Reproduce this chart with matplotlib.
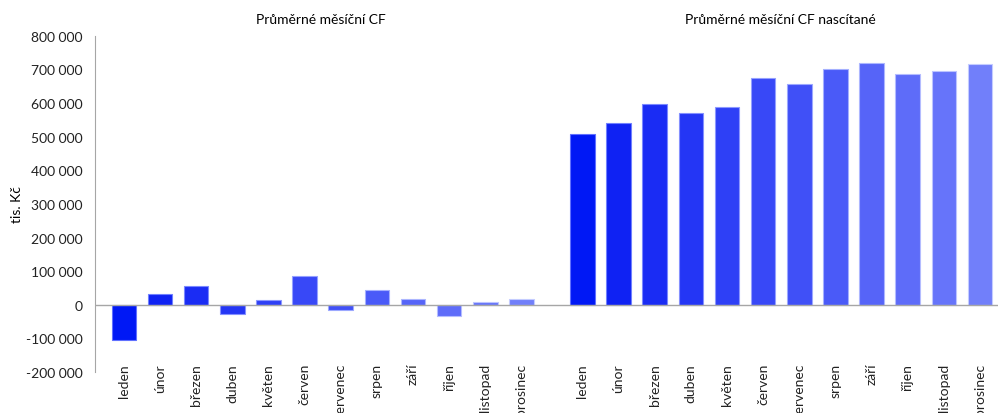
import numpy as np
import matplotlib.pyplot as plt
from matplotlib.ticker import FuncFormatter

plt.rcParams['font.family'] = ['Lato', 'DejaVu Sans']

months = ['leden', 'únor', 'březen', 'duben', 'květen', 'červen',
          'červenec', 'srpen', 'září', 'říjen', 'listopad', 'prosinec']
monthly_cf = [-105000, 32000, 55000, -27000, 15000, 87000,
              -16000, 44000, 17000, -33000, 9000, 17000]
cumulative_cf = [509000, 542000, 597000, 570000, 587000, 674000,
                 658000, 702000, 719000, 686000, 696000, 715000]

colors = ['#0018f5', '#0f22f3', '#1a2cf4', '#2436f5', '#2e40f6', '#3848f7',
          '#4050f7', '#4a5af8', '#5664f8', '#5e6cf9', '#6674fa', '#717ffa']
edges = ['#6070ff', '#7080ff', '#7a88ff', '#8490ff', '#8c98ff', '#94a0ff',
         '#9ca8ff', '#a4b0ff', '#acb6ff', '#b4bcff', '#bcc4ff', '#c4ccff']

fig = plt.figure(figsize=(9.98, 4.14), dpi=100)
ax = fig.add_axes([0.0952, 0.099, 0.9048, 0.812])

x_left = np.arange(12)
x_right = np.arange(12) + 12.69
ax.bar(x_left, monthly_cf, width=0.68, color=colors, edgecolor=edges, linewidth=0.8)
ax.bar(x_right, cumulative_cf, width=0.68, color=colors, edgecolor=edges, linewidth=0.8)

ax.set_xlim(-0.8, 24.19)
ax.set_ylim(-200000, 800000)
ax.set_yticks(np.arange(-200000, 800001, 100000))
ax.yaxis.set_major_formatter(FuncFormatter(lambda v, p: f'{int(v):,}'.replace(',', ' ')))
ax.tick_params(axis='y', length=0, pad=9, labelsize=10, colors='#222222')

ax.set_xticks(np.concatenate([x_left, x_right]))
ax.set_xticklabels(months + months, rotation=90, va='top', ha='center')
ax.tick_params(axis='x', length=0, pad=-6.5, labelsize=10, colors='#222222')

for s in ['top', 'right', 'bottom']:
    ax.spines[s].set_visible(False)
ax.spines['left'].set_color('#a6a6a6')
ax.axhline(0, color='#a6a6a6', linewidth=1)

ax.set_ylabel('tis. Kč', fontsize=10)
ax.yaxis.set_label_coords(-0.080, 0.5)

fig.text(0.322, 0.952, 'Průměrné měsíční CF', ha='center', va='center', fontsize=10)
fig.text(0.782, 0.952, 'Průměrné měsíční CF nascítané', ha='center', va='center', fontsize=10)

fig.savefig('out.png', dpi=100)
